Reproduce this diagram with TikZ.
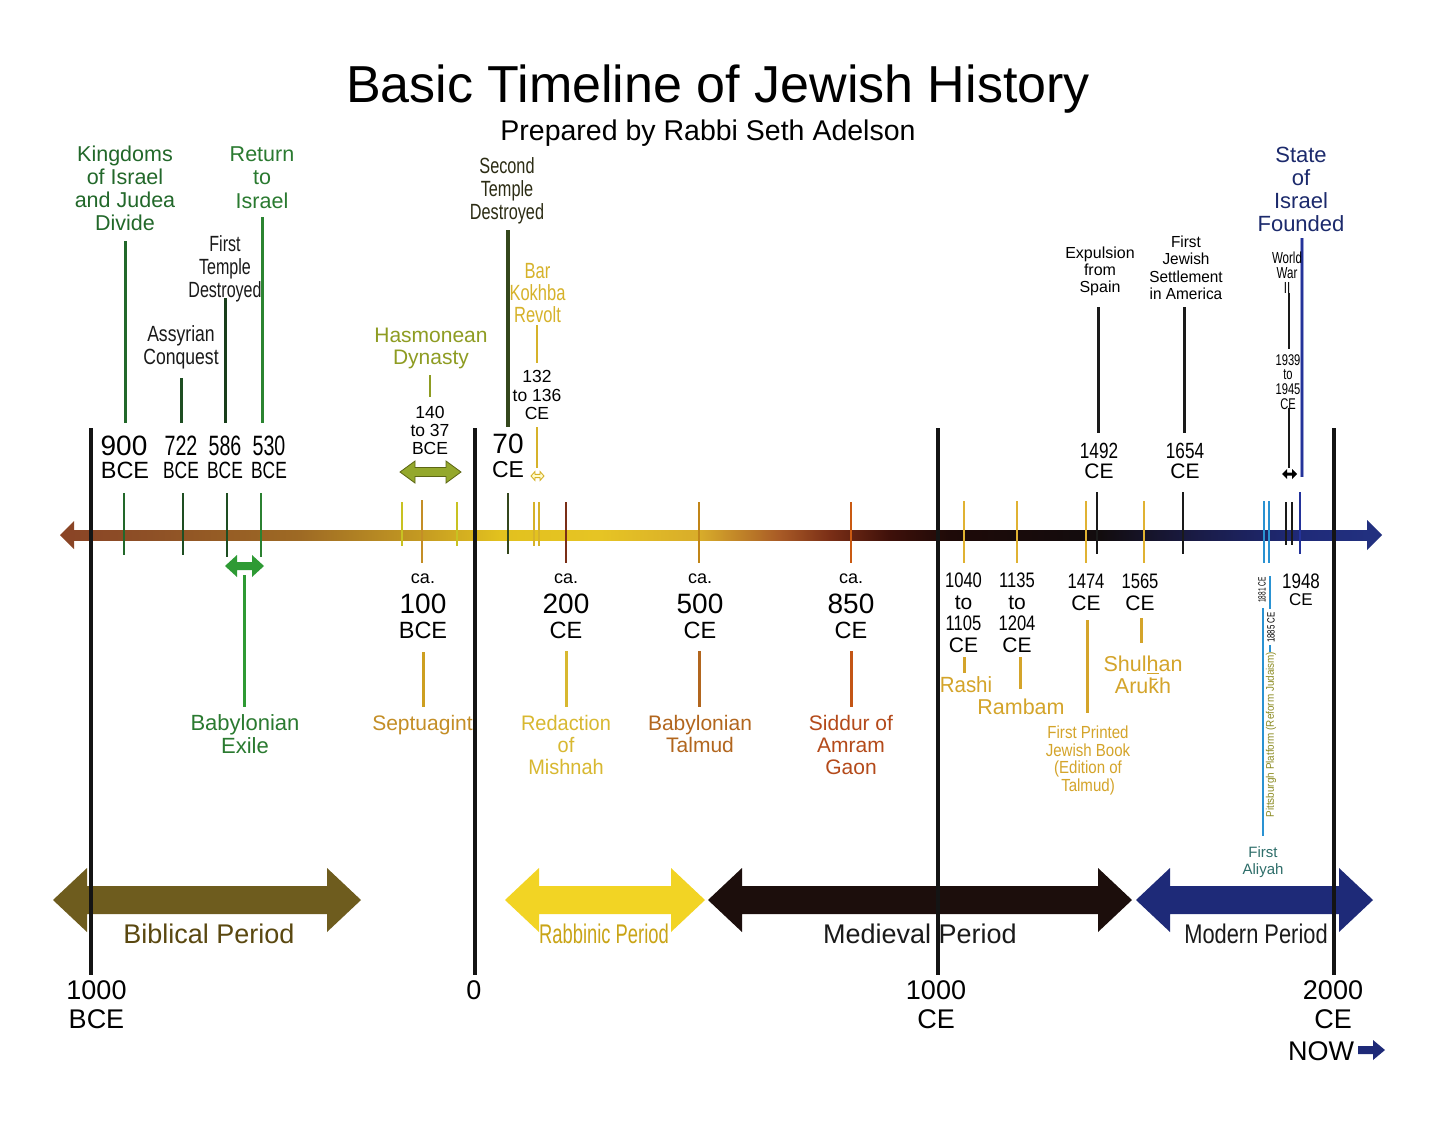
\documentclass[tikz,border=0pt]{standalone}
\usepackage{fontspec}
\setmainfont{Liberation Sans}
\usepackage{graphicx}
\usepackage{tikz}

\definecolor{kgreen}{HTML}{22682A}
\definecolor{rgreen}{HTML}{2A7A30}
\definecolor{lgreen}{HTML}{2E9A34}
\definecolor{dgreen}{HTML}{1E4E22}
\definecolor{olivec}{HTML}{8E9C22}
\definecolor{olivefill}{HTML}{94A82C}
\definecolor{oliveline}{HTML}{B0A830}
\definecolor{olivedk}{HTML}{5C6614}
\definecolor{stc}{HTML}{2C2C14}
\definecolor{stline}{HTML}{34471C}
\definecolor{bkc}{HTML}{D6B22A}
\definecolor{goldc}{HTML}{D4A42A}
\definecolor{goldtick}{HTML}{E0B232}
\definecolor{septc}{HTML}{C48E26}
\definecolor{redc}{HTML}{D8B830}
\definecolor{talc}{HTML}{B2661E}
\definecolor{sidc}{HTML}{B44A1A}
\definecolor{navyc}{HTML}{1C2A6C}
\definecolor{navyline}{HTML}{24339A}
\definecolor{lbluec}{HTML}{2A92D2}
\definecolor{tealc}{HTML}{2E6E6A}
\definecolor{pitc}{HTML}{8A8A20}
\definecolor{bibc}{HTML}{6E5C1E}
\definecolor{bibtext}{HTML}{5A4810}
\definecolor{rabc}{HTML}{F2D424}
\definecolor{rabtext}{HTML}{C9A416}
\definecolor{medc}{HTML}{1C0E0C}
\definecolor{modc}{HTML}{1E2A78}
\definecolor{darkc}{HTML}{1A1A1A}
\definecolor{ax1}{HTML}{8A4526}
\definecolor{ax2}{HTML}{8E5026}
\definecolor{ax3}{HTML}{9E6A24}
\definecolor{ax4}{HTML}{C49A22}
\definecolor{ax5}{HTML}{E2C11E}
\definecolor{ax6}{HTML}{E6C424}
\definecolor{ax7}{HTML}{D8AC2A}
\definecolor{ax8}{HTML}{A85A26}
\definecolor{ax9}{HTML}{7A2E16}
\definecolor{ax10}{HTML}{3E100A}
\definecolor{ax11}{HTML}{1E0A08}
\definecolor{ax12}{HTML}{120C0E}
\definecolor{ax13}{HTML}{1A1C48}
\definecolor{ax14}{HTML}{1F2A78}
\definecolor{ax15}{HTML}{22307F}

\pgfdeclarehorizontalshading{axisshade}{100bp}{color(0bp)=(ax1); color(25bp)=(ax1); color(28.08bp)=(ax2); color(33.86bp)=(ax3); color(38.48bp)=(ax4); color(41.56bp)=(ax5); color(45.42bp)=(ax6); color(49.27bp)=(ax7); color(52.35bp)=(ax8); color(54.28bp)=(ax9); color(56.59bp)=(ax10); color(58.9bp)=(ax11); color(64.68bp)=(ax12); color(68.53bp)=(ax13); color(72.38bp)=(ax14); color(75bp)=(ax15); color(100bp)=(ax15)}

\newcommand\fs[2]{\fontsize{#1}{#2}\selectfont}
\newcommand\nx[2]{\scalebox{#1}[1]{#2}}
\newcommand\cl[1]{\begin{tabular}[t]{@{}c@{}}#1\end{tabular}}
% style, x1, x2, yc, head length, head half height, shaft half height
\newcommand\dblarrow[7]{\path[#1] (#2,#4) -- ({#2+#5},{#4-#6}) -- ({#2+#5},{#4-#7}) -- ({#3-#5},{#4-#7}) -- ({#3-#5},{#4-#6}) -- (#3,#4) -- ({#3-#5},{#4+#6}) -- ({#3-#5},{#4+#7}) -- ({#2+#5},{#4+#7}) -- ({#2+#5},{#4+#6}) -- cycle;}

\begin{document}
\begin{tikzpicture}[x=1pt,y=-1pt,
  lab/.style={inner sep=0pt, anchor=base},
  rot/.style={inner sep=0pt, rotate=90},
  tk/.style={line width=2.2pt},
  vl/.style={line width=3pt},
  bigline/.style={line width=4pt, draw=black!92}]
\useasboundingbox (0,0) rectangle (1456,1125);
\fill[white] (0,0) rectangle (1456,1125);

% ---------- period arrows ----------
\dblarrow{fill=bibc}{53}{361}{900}{34}{32}{14}
\dblarrow{fill=rabc}{505}{705}{900}{34}{32}{14}
\dblarrow{fill=medc}{708}{1132}{900}{34}{32}{14}
\dblarrow{fill=modc}{1136}{1373}{900}{34}{32}{14}

\node[lab, font=\fs{27}{30}, text=bibtext] (biblical) at (209,943) {Biblical Period};
\node[lab, font=\fs{27}{30}, text=rabtext] (rabbinic) at (604,943) {\nx{.68}{Rabbinic Period}};
\node[lab, font=\fs{27}{30}, text=darkc] (medieval) at (920,943) {Medieval Period};
\node[lab, font=\fs{27}{30}, text=darkc] (modern) at (1256,943) {\nx{.81}{Modern Period}};

% ---------- main axis ----------
\shade[shading=axisshade] (70,530) rectangle (1368,540);
\fill[ax1] (60,535) -- (74,521) -- (74,549) -- cycle;
\fill[ax15] (1382,535) -- (1367,520) -- (1367,550) -- cycle;

% ticks
\draw[tk, kgreen] (124,493) -- (124,555);
\draw[tk, dgreen] (183,493) -- (183,555);
\draw[tk, dgreen] (227,493) -- (227,557);
\draw[tk, rgreen!80!lgreen] (261,493) -- (261,557);
\draw[tk, oliveline!70!yellow] (402,502) -- (402,546);
\draw[tk, septc] (422,500) -- (422,563);
\draw[tk, oliveline!70!yellow] (457,502) -- (457,546);
\draw[tk, stline] (508,493) -- (508,554);
\draw[line width=1.6pt, bkc] (534,502) -- (534,546);
\draw[line width=1.6pt, bkc] (539,502) -- (539,546);
\draw[tk, ax9] (566,502) -- (566,563);
\draw[tk, talc!80!yellow] (699,502) -- (699,563);
\draw[tk, sidc!70!orange] (851,502) -- (851,563);
\draw[tk, goldtick] (964,501) -- (964,563);
\draw[tk, goldtick] (1017,501) -- (1017,563);
\draw[tk, goldtick] (1086,501) -- (1086,563);
\draw[tk, goldtick] (1144,501) -- (1144,563);
\draw[tk, darkc] (1097,492) -- (1097,554);
\draw[tk, darkc] (1183,492) -- (1183,554);
\draw[tk, lbluec] (1264,501) -- (1264,563);
\draw[tk, lbluec] (1269,501) -- (1269,563);
\draw[line width=1.8pt, darkc] (1286,502) -- (1286,545);
\draw[line width=1.8pt, darkc] (1292,502) -- (1292,545);
\draw[tk, navyline] (1300,492) -- (1300,554);

% ---------- title ----------
\node[lab, font=\fs{52}{56}] (title) at (718,102) {Basic Timeline of Jewish History};
\node[lab, font=\fs{28.5}{30}] (subtitle) at (708,140) {Prepared by Rabbi Seth Adelson};

% ---------- Biblical events ----------
\node[lab, font=\fs{21.5}{23.3}, text=kgreen] (kingdoms) at (125,161) {\cl{Kingdoms\\of Israel\\and Judea\\Divide}};
\node[lab, font=\fs{21.5}{23.5}, text=rgreen] (return) at (262,161) {\cl{Return\\to\\Israel}};
\node[lab, font=\fs{22}{23}, text=darkc] (firsttemple) at (225,251) {\nx{.73}{\cl{First\\Temple\\Destroyed}}};
\node[lab, font=\fs{22}{23}, text=darkc] (assyrian) at (181,341) {\nx{.8}{\cl{Assyrian\\Conquest}}};

\draw[vl, kgreen] (125,241) -- (125,423);
\draw[vl, dgreen] (181,378) -- (181,423);
\draw[vl, dgreen!80!black] (225,298) -- (225,423);
\draw[vl, rgreen!70!lgreen] (262,217) -- (262,423);

\node[lab, font=\fs{28}{30}] (n900) at (124,455) {900};
\node[lab, font=\fs{23.5}{26}] (e900) at (125,478) {BCE};
\node[lab, font=\fs{28}{30}] (n722) at (181,455) {\nx{.7}{722}};
\node[lab, font=\fs{23.5}{26}] (e722) at (181,478) {\nx{.74}{BCE}};
\node[lab, font=\fs{28}{30}] (n586) at (225,455) {\nx{.7}{586}};
\node[lab, font=\fs{23.5}{26}] (e586) at (225,478) {\nx{.74}{BCE}};
\node[lab, font=\fs{28}{30}] (n530) at (269,455) {\nx{.7}{530}};
\node[lab, font=\fs{23.5}{26}] (e530) at (269,478) {\nx{.74}{BCE}};

% Babylonian exile
\dblarrow{fill=lgreen}{225}{264}{566}{12}{11}{4}
\draw[vl, lgreen] (244,575) -- (244,707);
\node[lab, font=\fs{22}{23}, text=rgreen] (babexile) at (245,730) {\cl{Babylonian\\Exile}};

% ---------- Second Temple era ----------
\node[lab, font=\fs{21}{22}, text=olivec] (hasmonean) at (431,342.5) {\cl{Hasmonean\\Dynasty}};
\draw[line width=1.5pt, olivec] (430,375) -- (430,397);
\node[lab, font=\fs{17.5}{18}] (d140) at (430,418) {\cl{140\\to 37\\BCE}};
\dblarrow{fill=olivefill, draw=olivedk, line width=0.8pt}{400}{461}{472}{15}{11}{4.5}

\node[lab, font=\fs{22}{23}, text=stc] (secondtemple) at (507,173) {\nx{.74}{\cl{Second\\Temple\\Destroyed}}};
\draw[line width=3.5pt, stline] (508,230) -- (508,427);
\node[lab, font=\fs{28}{30}] (n70) at (508,453) {70};
\node[lab, font=\fs{23}{26}] (e70) at (508,477) {CE};

\node[lab, font=\fs{22}{21}, text=bkc] (barkokhba) at (537.5,278) {\nx{.75}{\cl{Bar\\Kokhba\\Revolt}}};
\draw[line width=1.5pt, bkc] (537,325) -- (537,363);
\node[lab, font=\fs{17.5}{18.5}] (d132) at (537,382.5) {\cl{132\\to 136\\CE}};
\draw[line width=1.5pt, bkc] (537,427) -- (537,468);
\dblarrow{fill=yellow!20, draw=bkc, line width=0.9pt}{531}{544}{476}{4}{4.5}{1.6}

% ca. 100 BCE Septuagint
\node[lab, font=\fs{18}{20}] (ca100) at (423,583) {ca.};
\node[lab, font=\fs{28}{30}] (n100) at (423,613) {100};
\node[lab, font=\fs{23.5}{26}] (e100) at (423,638) {BCE};
\draw[vl, septc!85!yellow] (423,652) -- (423,707);
\node[lab, font=\fs{21}{22}, text=septc] (septuagint) at (422.5,730) {Septuagint};

% ca. 200 CE
\node[lab, font=\fs{18}{20}] (ca200) at (566,583) {ca.};
\node[lab, font=\fs{28}{30}] (n200) at (566,613) {200};
\node[lab, font=\fs{23.5}{26}] (e200) at (566,638) {CE};
\draw[vl, redc] (566,651) -- (566,707);
\node[lab, font=\fs{21}{22}, text=redc] (redaction) at (566,730) {\nx{.95}{\cl{Redaction\\of\\Mishnah}}};

% ca. 500 CE
\node[lab, font=\fs{18}{20}] (ca500) at (700,583) {ca.};
\node[lab, font=\fs{28}{30}] (n500) at (700,613) {500};
\node[lab, font=\fs{23.5}{26}] (e500) at (700,638) {CE};
\draw[vl, talc] (699,651) -- (699,707);
\node[lab, font=\fs{21}{22}, text=talc] (babtalmud) at (700,730) {\cl{Babylonian\\Talmud}};

% ca. 850 CE
\node[lab, font=\fs{18}{20}] (ca850) at (851,583) {ca.};
\node[lab, font=\fs{28}{30}] (n850) at (851,613) {850};
\node[lab, font=\fs{23.5}{26}] (e850) at (851,638) {CE};
\draw[vl, sidc!80!orange] (851,651) -- (851,707);
\node[lab, font=\fs{21}{22}, text=sidc] (siddur) at (851,730) {\cl{Siddur of\\Amram\\Gaon}};

% ---------- Medieval ----------
\node[lab, font=\fs{21}{21.7}] (d1040) at (963.5,587.5) {\cl{\nx{.79}{1040}\\to\\\nx{.79}{1105}\\CE}};
\draw[vl, goldc] (964,657) -- (964,673);
\node[lab, font=\fs{22}{23}, text=goldc] (rashi) at (966,692) {\nx{.93}{Rashi}};

\node[lab, font=\fs{21}{21.7}] (d1135) at (1017,587.5) {\cl{\nx{.79}{1135}\\to\\\nx{.79}{1204}\\CE}};
\draw[vl, goldc] (1020,657) -- (1020,689);
\node[lab, font=\fs{21.5}{23}, text=goldc] (rambam) at (1021,714) {Rambam};

\node[lab, font=\fs{21}{22}] (d1474) at (1086,588) {\cl{\nx{.79}{1474}\\CE}};
\draw[vl, goldc] (1087,620) -- (1087,713);
\node[lab, font=\fs{17.5}{17.7}, text=goldc] (printed) at (1088,738) {\nx{.86}{\cl{First Printed\\Jewish Book\\(Edition of\\Talmud)}}};

\node[lab, font=\fs{21}{22}] (d1565) at (1140,588) {\cl{\nx{.79}{1565}\\CE}};
\draw[vl, goldc] (1141,618) -- (1141,643);
\node[lab, font=\fs{21.5}{21}, text=goldc] (shulhan) at (1143,671.5) {\cl{Shul\underline{h}an\\Aru\={k}h}};

\node[lab, font=\fs{16}{17}] (expulsion) at (1100,258) {\cl{Expulsion\\from\\Spain}};
\draw[vl, darkc] (1098,307) -- (1098,433);
\node[lab, font=\fs{22}{20}] (d1492) at (1099,458) {\cl{\nx{.78}{1492}\\\fs{21}{20}CE}};

\node[lab, font=\fs{16}{17.6}] (firstjewish) at (1186,247) {\nx{.96}{\cl{First\\Jewish\\Settlement\\in America}}};
\draw[vl, darkc] (1184,307) -- (1184,433);
\node[lab, font=\fs{22}{20}] (d1654) at (1185,458) {\cl{\nx{.78}{1654}\\\fs{21}{20}CE}};

% ---------- Modern ----------
\node[lab, font=\fs{22}{23.3}, text=navyc] (state) at (1301,162) {\cl{State\\of\\Israel\\Founded}};
\draw[line width=3.6pt, navyline!45!white] (1302,238) -- (1302,477);
\draw[line width=2.2pt, navyline] (1302,238) -- (1302,477);

\node[lab, font=\fs{16}{14}] (ww2) at (1287,263) {\nx{.72}{\cl{World\\War\\II}}};
\draw[line width=2.5pt, darkc] (1289,293) -- (1289,349);
\node[lab, font=\fs{15.5}{13.8}] (d1939) at (1288,365) {\nx{.72}{\cl{1939\\to\\1945\\CE}}};
\draw[line width=2.5pt, darkc] (1289,408) -- (1289,468);
\dblarrow{fill=black}{1282}{1297}{474}{5}{5}{1.5}

\node[lab, font=\fs{21}{22}] (n1948) at (1301,588) {\nx{.81}{1948}};
\node[lab, font=\fs{17}{19}] (e1948) at (1301,605) {CE};

\node[rot, font=\fs{10.5}{11}] (t1881) at (1262,590) {\nx{.62}{1881 CE}};
\draw[line width=2pt, lbluec] (1263,608) -- (1263,836);
\draw[line width=1.4pt, lbluec] (1270,576) -- (1270,609);
\node[rot, font=\fs{10.5}{11}] (t1885) at (1271,627.5) {\nx{.75}{1885 CE}};
\draw[line width=1.4pt, lbluec] (1270,645) -- (1270,652);
\node[rot, font=\fs{11}{12}, text=pitc] (pitt) at (1271,734.5) {\nx{.9}{Pittsburgh Platform (Reform Judaism)}};
\node[lab, font=\fs{15}{17.5}, text=tealc] (aliyah) at (1263,857) {\cl{First\\Aliyah}};

% ---------- era lines ----------
\draw[bigline] (91,428) -- (91,975);
\draw[bigline] (475,428) -- (475,975);
\draw[bigline] (938,428) -- (938,975);
\draw[bigline] (1334,428) -- (1334,975);

% ---------- bottom labels ----------
\node[lab, font=\fs{27}{29}] (b1000) at (96.5,999) {\cl{1000\\BCE}};
\node[lab, font=\fs{27}{29}] (bzero) at (474,999) {0};
\node[lab, font=\fs{27}{29}] (c1000) at (936,999) {\cl{1000\\CE}};
\node[lab, font=\fs{27}{29}] (c2000) at (1333,999) {\cl{2000\\CE}};
\node[lab, font=\fs{27}{29}] (now) at (1321,1060) {NOW};
\fill[modc] (1358,1046) -- (1373,1046) -- (1373,1040) -- (1385,1050) -- (1373,1060) -- (1373,1054) -- (1358,1054) -- cycle;
\end{tikzpicture}
\end{document}
